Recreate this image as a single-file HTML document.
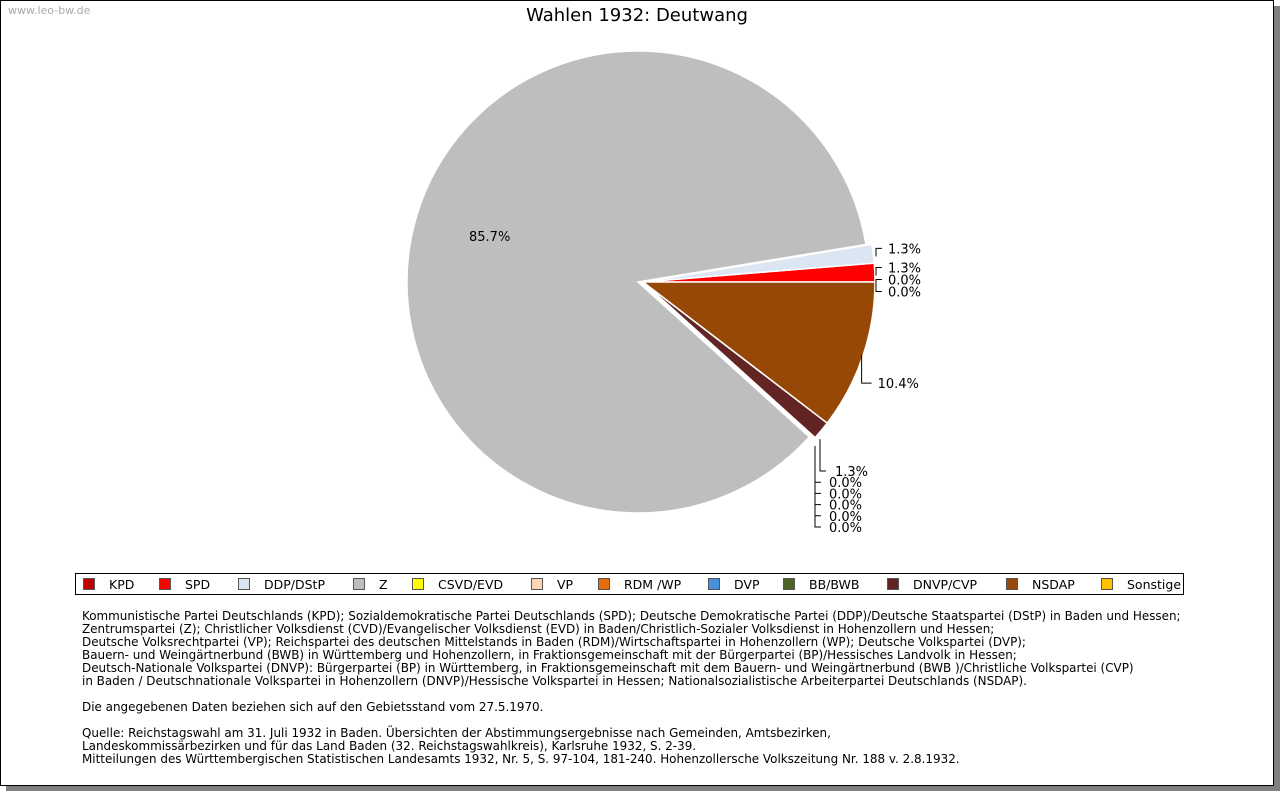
<!DOCTYPE html>
<html><head><meta charset="utf-8"><style>
body{margin:0;width:1280px;height:791px;background:#fff;font-family:"DejaVu Sans","Liberation Sans",sans-serif;overflow:hidden;position:relative}
#frame{position:absolute;left:0;top:0;width:1272px;height:784px;border:1px solid #000;box-shadow:6px 6px 0 #808080;background:#fff}
#wm{position:absolute;left:8px;top:4px;font-size:11px;color:#aaa}
#title{position:absolute;left:0;width:1274px;top:5px;text-align:center;font-size:18px;color:#000}
#legend{position:absolute;left:75px;top:573px;width:1107px;height:20px;border:1px solid #000;font-size:12.5px}
.li{position:absolute;top:3px;white-space:nowrap}
.li span{display:inline-block;width:10px;height:10px;border:1px solid #555;margin-right:14px;vertical-align:-1px}
#notes{position:absolute;left:82px;top:610px;font-size:11.95px;line-height:13px;color:#000;white-space:pre}
</style></head><body>
<div id="frame"></div>
<div id="wm">www.leo-bw.de</div>
<div id="title">Wahlen 1932: Deutwang</div>
<svg id="pie" width="1280" height="791" style="position:absolute;left:0;top:0"></svg>
<div id="legend"></div>
<div id="notes">Kommunistische Partei Deutschlands (KPD); Sozialdemokratische Partei Deutschlands (SPD); Deutsche Demokratische Partei (DDP)/Deutsche Staatspartei (DStP) in Baden und Hessen;
Zentrumspartei (Z); Christlicher Volksdienst (CVD)/Evangelischer Volksdienst (EVD) in Baden/Christlich-Sozialer Volksdienst in Hohenzollern und Hessen;
Deutsche Volksrechtpartei (VP); Reichspartei des deutschen Mittelstands in Baden (RDM)/Wirtschaftspartei in Hohenzollern (WP); Deutsche Volkspartei (DVP);
Bauern- und Weingärtnerbund (BWB) in Württemberg und Hohenzollern, in Fraktionsgemeinschaft mit der Bürgerpartei (BP)/Hessisches Landvolk in Hessen;
Deutsch-Nationale Volkspartei (DNVP): Bürgerpartei (BP) in Württemberg, in Fraktionsgemeinschaft mit dem Bauern- und Weingärtnerbund (BWB )/Christliche Volkspartei (CVP)
in Baden / Deutschnationale Volkspartei in Hohenzollern (DNVP)/Hessische Volkspartei in Hessen; Nationalsozialistische Arbeiterpartei Deutschlands (NSDAP).

Die angegebenen Daten beziehen sich auf den Gebietsstand vom 27.5.1970.

Quelle: Reichstagswahl am 31. Juli 1932 in Baden. Übersichten der Abstimmungsergebnisse nach Gemeinden, Amtsbezirken,
Landeskommissärbezirken und für das Land Baden (32. Reichstagswahlkreis), Karlsruhe 1932, S. 2-39.
Mitteilungen des Württembergischen Statistischen Landesamts 1932, Nr. 5, S. 97-104, 181-240. Hohenzollersche Volkszeitung Nr. 188 v. 2.8.1932.</div>
<script>
const parties=["KPD","SPD","DDP/DStP","Z","CSVD/EVD","VP","RDM /WP","DVP","BB/BWB","DNVP/CVP","NSDAP","Sonstige"];
const values=[0.0,1.3,1.3,85.7,0.0,0.0,0.0,0.0,0.0,1.3,10.4,0.0];
const colors=["#c00000","#ff0000","#dce6f2","#bebebe","#ffff00","#fcd5b5","#e46c0a","#4a90d9","#4f6228","#632523","#974806","#ffc000"];
const legendX=[82,158,237,352,411,530,597,707,782,886,1005,1100];
const svg=document.getElementById('pie');
const NS="http://www.w3.org/2000/svg";
const cx=641,cy=282,R=231;
const total=values.reduce((a,b)=>a+b,0);
function pt(c,r,a){return [c[0]+r*Math.cos(a),c[1]-r*Math.sin(a)];}
function slug(s){return s.toLowerCase().replace(/[^a-z]+/g,'-');}
let ang=0;const mids=[];
values.forEach((v,i)=>{
  const sw=v/total*2*Math.PI;const a0=ang,a1=ang+sw;ang=a1;
  mids.push((a0+a1)/2);
  const big=i===3;
  const c=big?[cx-3,cy]:[cx+2,cy];
  const r=big?R:R+1;
  if(v>0){
    const p0=pt(c,r,a0),p1=pt(c,r,a1);
    const path=document.createElementNS(NS,'path');
    path.setAttribute('d',`M${c[0]},${c[1]} L${p0[0]},${p0[1]} A${r},${r} 0 ${sw>Math.PI?1:0} 0 ${p1[0]},${p1[1]} Z`);
    path.setAttribute('fill',colors[i]);path.setAttribute('stroke','#fff');path.setAttribute('stroke-width','1.5');
    
    
    svg.appendChild(path);
  }
});
function txt(x,y,s,name){const t=document.createElementNS(NS,'text');t.setAttribute('x',x);t.setAttribute('y',y);t.setAttribute('font-size','13');t.setAttribute('font-family','DejaVu Sans, sans-serif');t.textContent=s;


svg.appendChild(t);}
function line(pts){const p=document.createElementNS(NS,'polyline');p.setAttribute('points',pts.map(q=>q.join(',')).join(' '));p.setAttribute('fill','none');p.setAttribute('stroke','#000');p.setAttribute('stroke-width','1');svg.appendChild(p);}
txt(469,241,values[3].toFixed(1)+'%','label-z');
const right=[],bottom=[];
values.forEach((v,i)=>{if(i===3)return;let m=mids[i];let ma=m>Math.PI?m-2*Math.PI:m;
 if(ma>-0.4) right.push([i,ma]); else bottom.push([i,ma]);});
right.sort((a,b)=>b[1]-a[1]);
let prevY=-1e9;
right.forEach(([i,m])=>{const a=pt([cx+2,cy],R+3,m);
 const name='label-'+slug(parties[i]);
 if(i===10){
   const x=a[0]-3;
   line([[x,a[1]-2],[x,a[1]+26],[x+10,a[1]+26]]);
   txt(x+16,a[1]+31,values[i].toFixed(1)+'%',name);return;
 }
 let y=Math.max(a[1]-5,prevY+12);prevY=y;
 line([[876,a[1]+3],[876,y],[882,y]]);
 txt(888,y+5,values[i].toFixed(1)+'%',name);});
bottom.sort((a,b)=>b[1]-a[1]);
let by=471-11.2;
bottom.forEach(([i,m])=>{const a=pt([cx+2,cy],R+2,m);by+=11.2;
 const x=(i===9)?820:815;
 line([[x,a[1]+8],[x,by],[x+6,by]]);
 txt(i===9?835:829,by+5,values[i].toFixed(1)+'%','label-'+slug(parties[i]));});
const lg=document.getElementById('legend');
parties.forEach((p,i)=>{const d=document.createElement('div');d.className='li';d.style.left=(legendX[i]-75)+'px';
 
 
 d.innerHTML='<span style="background:'+colors[i]+'"></span>'+p;lg.appendChild(d);});
</script>
</body></html>
